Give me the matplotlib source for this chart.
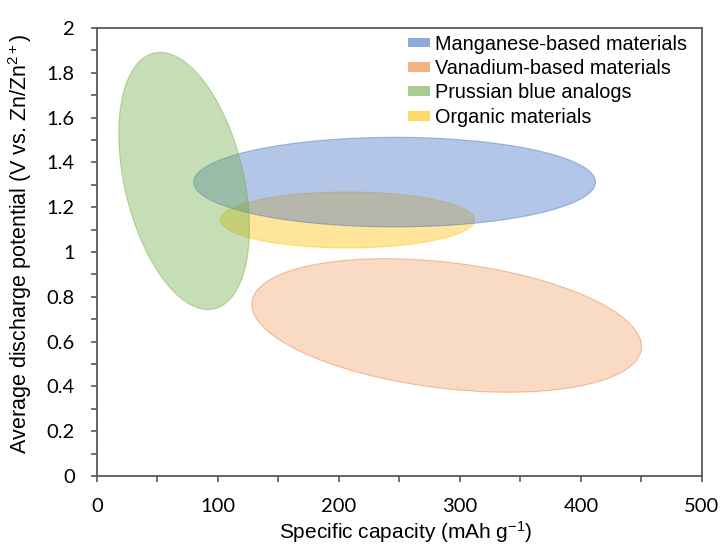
import numpy as np
import matplotlib
matplotlib.use('Agg')
import matplotlib.pyplot as plt
from matplotlib.patches import Patch

plt.rcParams['font.family'] = ['Liberation Sans', 'DejaVu Sans']
plt.rcParams['mathtext.fontset'] = 'custom'
plt.rcParams['mathtext.rm'] = 'Liberation Sans'
plt.rcParams['mathtext.it'] = 'Liberation Sans:italic'

# material groups and their regions (centre, half ranges, phase of tilt in deg)
groups = ['Manganese-based materials', 'Vanadium-based materials',
          'Prussian blue analogs', 'Organic materials']
center_x = [246, 289, 72, 207]
center_y = [1.312, 0.672, 1.317, 1.143]
half_x = [166, 161, 54, 105]
half_y = [0.20, 0.298, 0.574, 0.125]
phase = [90, 108.4, 111.5, 90]
colors = ['#4472C4', '#ED7D31', '#70AD47', '#FFC000']
fill_alpha = [0.40, 0.28, 0.40, 0.40]
layer = [2, 1, 3, 1]  # organic sits under the Mn region, PBA on top

fig = plt.figure(figsize=(7.2, 5.49), dpi=100)
ax = fig.add_axes([0.1347, 0.133, 0.8403, 0.816])

t = np.linspace(0, 2 * np.pi, 300)
for i in range(len(groups)):
    xs = center_x[i] + half_x[i] * np.cos(t)
    ys = center_y[i] + half_y[i] * np.cos(t - np.radians(phase[i]))
    ax.fill(xs, ys, facecolor=colors[i], alpha=fill_alpha[i], edgecolor='none',
            zorder=layer[i])
    ax.plot(xs, ys, color=colors[i], alpha=0.45, lw=0.8, zorder=layer[i])

ax.set_xlim(0, 500)
ax.set_ylim(0, 2)
ax.set_xticks(np.arange(0, 501, 100))
ax.set_xticks(np.arange(0, 501, 50), minor=True)
ax.set_yticks(np.arange(0, 2.01, 0.2))
ax.set_yticks(np.arange(0, 2.01, 0.1), minor=True)
ax.set_yticklabels(['0', '0.2', '0.4', '0.6', '0.8', '1', '1.2', '1.4', '1.6', '1.8', '2'])

for sp in ax.spines.values():
    sp.set_color('#595959')
    sp.set_linewidth(1.3)
ax.tick_params(which='both', direction='out', length=4.5, width=1.2, color='#595959')
ax.tick_params(which='major', labelsize=14.5, pad=11.5)
for lab in ax.get_xticklabels() + ax.get_yticklabels():
    lab.set_family(['Lato', 'DejaVu Sans'])

ax.set_xlabel('Specific capacity (mAh g$^{-1}$)', fontsize=15)
ax.set_ylabel('Average discharge potential (V vs. Zn/Zn$^{2+}$)', fontsize=15.5)
ax.xaxis.set_label_coords(0.51, -0.097)
ax.yaxis.set_label_coords(-0.104, 0.518)

handles = [Patch(facecolor=c, alpha=0.6, edgecolor='none') for c in colors]
ax.legend(handles, groups, loc='upper left', bbox_to_anchor=(0.514, 0.985),
          frameon=False, fontsize=14.3, handlelength=1.1, handleheight=0.38,
          handletextpad=0.25, labelspacing=0.27, borderaxespad=0, borderpad=0)

fig.savefig('out.png', dpi=100)
